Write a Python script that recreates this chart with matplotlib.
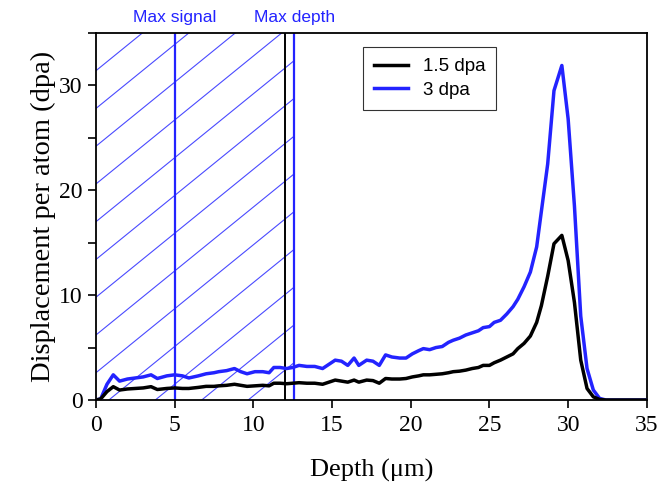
import numpy as np
import matplotlib.pyplot as plt
from matplotlib.patches import Rectangle

# Datos
depth = [0, 0.3, 0.7, 1.1, 1.5, 2.0, 2.5, 3.0, 3.5, 3.9, 4.5, 5.0, 5.5, 5.9, 6.5,
         7.0, 7.5, 7.8, 8.3, 8.8, 9.2, 9.6, 10.1, 10.6, 11.0, 11.3, 11.7, 12.1,
         12.5, 12.9, 13.4, 13.9, 14.4, 14.8, 15.2, 15.6, 16.0, 16.4, 16.7, 17.2,
         17.6, 18.0, 18.4, 18.8, 19.3, 19.7, 20.1, 20.5, 20.8, 21.2, 21.6, 22.0,
         22.4, 22.7, 23.1, 23.5, 23.9, 24.3, 24.6, 25.0, 25.3, 25.7, 26.1, 26.5,
         26.8, 27.2, 27.6, 28.0, 28.3, 28.7, 29.1, 29.6, 30.0, 30.4, 30.8, 31.2,
         31.6, 32.0, 32.4, 33.0, 34.0, 35.0]

dpa_1_5 = [0, 0.1, 0.8, 1.27, 0.95, 1.05, 1.1, 1.15, 1.27, 1.0, 1.1, 1.15, 1.1,
           1.1, 1.2, 1.3, 1.3, 1.35, 1.4, 1.5, 1.4, 1.3, 1.35, 1.4, 1.35, 1.6,
           1.6, 1.55, 1.6, 1.65, 1.6, 1.6, 1.5, 1.7, 1.9, 1.8, 1.7, 1.9, 1.7,
           1.9, 1.85, 1.6, 2.05, 2.0, 2.0, 2.05, 2.2, 2.3, 2.4, 2.4, 2.45, 2.5,
           2.6, 2.7, 2.75, 2.85, 3.0, 3.1, 3.3, 3.3, 3.55, 3.8, 4.1, 4.4, 4.9,
           5.4, 6.1, 7.4, 9.0, 11.8, 14.9, 15.7, 13.3, 9.3, 3.8, 1.1, 0.3, 0.05,
           0, 0, 0, 0]

dpa_3 = [0, 0.1, 1.5, 2.4, 1.8, 2.0, 2.1, 2.2, 2.4, 2.05, 2.3, 2.4, 2.3, 2.1,
         2.3, 2.5, 2.6, 2.7, 2.8, 3.0, 2.7, 2.5, 2.7, 2.7, 2.6, 3.1, 3.1, 3.0,
         3.1, 3.3, 3.2, 3.2, 3.0, 3.4, 3.8, 3.7, 3.3, 4.0, 3.3, 3.8, 3.7, 3.3,
         4.3, 4.1, 4.0, 4.0, 4.4, 4.7, 4.9, 4.8, 5.0, 5.1, 5.5, 5.7, 5.9, 6.2,
         6.4, 6.6, 6.9, 7.0, 7.4, 7.6, 8.2, 8.9, 9.6, 10.8, 12.2, 14.6, 18.0,
         22.5, 29.5, 31.9, 26.8, 18.5, 8.0, 3.0, 0.95, 0.15, 0, 0, 0, 0]

max_signal = 5.0
max_depth = 12.6
depth_black = 12.0

azul = "#2323ff"

fig = plt.figure(figsize=(6.71, 4.92), dpi=100)
ax = fig.add_axes([0.143, 0.187, 0.821, 0.746])
ax.set_xlim(0, 35)
ax.set_ylim(0, 35)

# zona rayada hasta max depth
zona = Rectangle((0, 0), max_depth, 35, fill=False, edgecolor="none")
ax.add_patch(zona)
for b in np.arange(2.6 - 3.6 * 5, 35, 3.6):
    ln = ax.axline((0, b), slope=1.22, color="#4a4aff", lw=0.8, zorder=1)
    ln.set_clip_path(zona)

ax.axvline(max_signal, color=azul, lw=1.6, zorder=2)
ax.axvline(depth_black, color="black", lw=1.4, zorder=2)
ax.axvline(max_depth, color=azul, lw=1.6, zorder=2)

ax.plot(depth, dpa_3, color=azul, lw=2.5, label="3 dpa", zorder=3)
ax.plot(depth, dpa_1_5, color="black", lw=2.5, label="1.5 dpa", zorder=4)

sans = "Liberation Sans"
ax.text(max_signal, 35.8, "Max signal", color=azul, ha="center", va="bottom",
        fontsize=12.5, family=sans)
ax.text(max_depth, 35.8, "Max depth", color=azul, ha="center", va="bottom",
        fontsize=12.5, family=sans)

h, l = ax.get_legend_handles_labels()
leg = ax.legend(h[::-1], l[::-1], loc="upper left", bbox_to_anchor=(0.484, 0.962),
                prop={"family": sans, "size": 13.5}, frameon=True, fancybox=False,
                handlelength=1.8, borderpad=0.6, labelspacing=0.35,
                borderaxespad=0)
leg.get_frame().set_edgecolor("black")
leg.get_frame().set_linewidth(0.8)

serif = "Liberation Serif"
ax.set_xticks(range(0, 36, 5))
ax.set_yticks([0, 10, 20, 30])
ax.set_yticks([5, 15, 25, 35], minor=True)
ax.tick_params(direction="out", length=6, width=1.2, labelsize=17)
ax.tick_params(axis="x", pad=5)
ax.tick_params(which="minor", direction="out", length=6, width=1.2)
for t in ax.get_xticklabels() + ax.get_yticklabels():
    t.set_family(serif)
ax.set_xlabel("Depth (\u03bcm)", fontsize=19, family=serif, labelpad=16)
ax.set_ylabel("Displacement per atom (dpa)", fontsize=20.5, family=serif, labelpad=2)
for s in ax.spines.values():
    s.set_linewidth(1.3)

plt.savefig("out.png", dpi=100)
